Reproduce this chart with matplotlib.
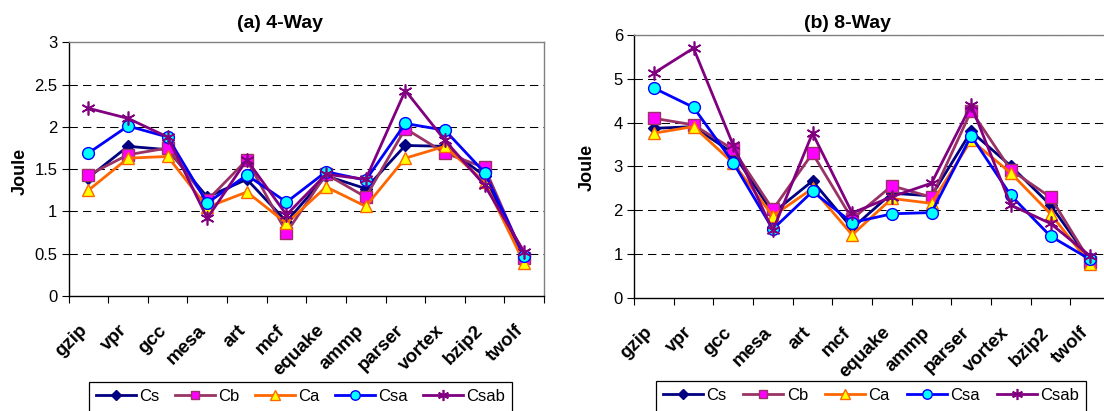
import matplotlib
matplotlib.use("Agg")
import matplotlib.pyplot as plt
import matplotlib.transforms as mtransforms
from matplotlib.patches import Rectangle
import numpy as np

plt.rcParams['font.family'] = ['Liberation Sans', 'DejaVu Sans']

benchmarks = ["gzip", "vpr", "gcc", "mesa", "art", "mcf", "equake", "ammp",
              "parser", "vortex", "bzip2", "twolf"]
series_names = ["Cs", "Cb", "Ca", "Csa", "Csab"]

# (a) 4-Way
cs_4 = [1.40, 1.77, 1.73, 1.17, 1.38, 0.88, 1.42, 1.27, 1.78, 1.77, 1.42, 0.44]
cb_4 = [1.43, 1.67, 1.75, 1.13, 1.61, 0.75, 1.44, 1.17, 1.98, 1.69, 1.52, 0.45]
ca_4 = [1.25, 1.63, 1.65, 1.05, 1.23, 0.86, 1.29, 1.06, 1.63, 1.77, 1.35, 0.39]
csa_4 = [1.69, 2.01, 1.88, 1.10, 1.43, 1.11, 1.47, 1.37, 2.04, 1.96, 1.46, 0.47]
csab_4 = [2.22, 2.10, 1.88, 0.92, 1.61, 0.96, 1.44, 1.38, 2.43, 1.84, 1.31, 0.52]

# (b) 8-Way
cs_8 = [3.87, 3.91, 3.30, 1.94, 2.67, 1.59, 2.39, 2.33, 3.80, 3.01, 2.12, 0.85]
cb_8 = [4.10, 3.95, 3.39, 2.02, 3.30, 1.80, 2.56, 2.30, 4.27, 2.92, 2.30, 0.83]
ca_8 = [3.76, 3.91, 3.08, 1.87, 2.50, 1.44, 2.27, 2.16, 3.60, 2.85, 1.92, 0.78]
csa_8 = [4.79, 4.35, 3.09, 1.57, 2.43, 1.72, 1.92, 1.95, 3.70, 2.34, 1.41, 0.88]
csab_8 = [5.13, 5.70, 3.49, 1.54, 3.76, 1.94, 2.31, 2.62, 4.40, 2.12, 1.70, 0.96]

data_4 = [cs_4, cb_4, ca_4, csa_4, csab_4]
data_8 = [cs_8, cb_8, ca_8, csa_8, csab_8]

styles = [
    dict(color="#000080", marker="D", ms=6.5, mfc="#000080", mec="#000080", mew=1.0),
    dict(color="#993366", marker="s", ms=8.0, mfc="#FF00FF", mec="#993366", mew=1.0),
    dict(color="#FF6600", marker="^", ms=9.0, mfc="#FFFF00", mec="#FF6600", mew=1.0),
    dict(color="#0000FF", marker="o", ms=8.5, mfc="#00FFFF", mec="#0000FF", mew=1.0),
    dict(color="#800080", marker=(6, 2, 0), ms=10.0, mfc="#800080", mec="#800080", mew=1.2),
]

W, H = 1104, 411
fig = plt.figure(figsize=(W / 100, H / 100), dpi=100)
fig.patch.set_facecolor("white")


def px_rect(x0, y0, x1, y1):
    return [x0 / W, 1 - y1 / H, (x1 - x0) / W, (y1 - y0) / H]


def setup(ax, data, ymax, ystep, top_grid, title, title_x, joule_x, joule_y, leg_box):
    x = np.arange(len(benchmarks))
    handles = []
    for vals, name, st in zip(data, series_names, styles):
        h, = ax.plot(x, vals, lw=2.0, label=name, zorder=3, clip_on=False, **st)
        handles.append(h)
    ax.set_xlim(-0.5, len(benchmarks) - 0.5)
    ax.set_ylim(0, ymax)
    yt = np.arange(0, ymax + 0.001, ystep)
    ax.set_yticks(yt)
    ax.set_yticklabels([("%g" % v) for v in yt], fontsize=12)
    grid_top = ymax + 0.001 if top_grid else ymax - 0.001
    for v in np.arange(ystep, grid_top, ystep):
        ax.axhline(v, color="#000000", lw=0.75, dashes=(8, 5), zorder=1)
    ax.set_xticks(np.arange(-0.5, len(benchmarks)), minor=False)
    ax.set_xticklabels([])
    ax.set_xticks(x, minor=True)
    ax.set_xticklabels(benchmarks, minor=True, rotation=45, ha="right", va="center",
                       rotation_mode="anchor", fontsize=13.5, fontweight="bold")
    ax.tick_params(axis="x", which="major", direction="out", length=5, width=0.8, color="black")
    ax.tick_params(axis="x", which="minor", length=0, pad=23)
    ax.tick_params(axis="y", direction="out", length=5, width=0.8, pad=3)
    offset = mtransforms.ScaledTranslation(-4 / 100, 0, fig.dpi_scale_trans)
    for lbl in ax.get_xticklabels(minor=True):
        lbl.set_transform(lbl.get_transform() + offset)
    for s in ["left", "bottom"]:
        ax.spines[s].set_color("black")
        ax.spines[s].set_linewidth(1.0)
    for s in ["top", "right"]:
        ax.spines[s].set_color("#808080")
        ax.spines[s].set_linewidth(1.0)
    ax.set_facecolor("white")
    fig.text(title_x / W, 1 - 23.5 / H, title, ha="center", va="center",
             fontsize=14, fontweight="bold")
    fig.text(joule_x / W, 1 - joule_y / H, "Joule", ha="center", va="center",
             rotation=90, fontsize=13, fontweight="bold")
    x0, y0, x1 = leg_box
    leg = fig.legend(handles=handles, loc="upper left", ncol=5, mode="expand",
                     bbox_to_anchor=(x0 / W, 1 - y0 / H, (x1 - x0) / W, 0.0001),
                     frameon=False, fontsize=12, numpoints=1,
                     handlelength=2.4, handletextpad=0.2, borderpad=0.4,
                     borderaxespad=0, markerscale=0.8)
    fig.patches.append(Rectangle((x0 / W, -0.05), (x1 - x0) / W, (1 - y0 / H) + 0.05,
                                 transform=fig.transFigure, fill=False,
                                 edgecolor="black", linewidth=0.9))


ax1 = fig.add_axes(px_rect(68.6, 42.3, 544, 296))
setup(ax1, data_4, 3, 0.5, False, "(a) 4-Way", 280, 20, 171, (89, 382, 512))

ax2 = fig.add_axes(px_rect(634, 35, 1110, 298))
setup(ax2, data_8, 6, 1, True, "(b) 8-Way", 847, 587, 167.5, (656, 381, 1086))

fig.savefig("out.png", dpi=100, facecolor="white")
